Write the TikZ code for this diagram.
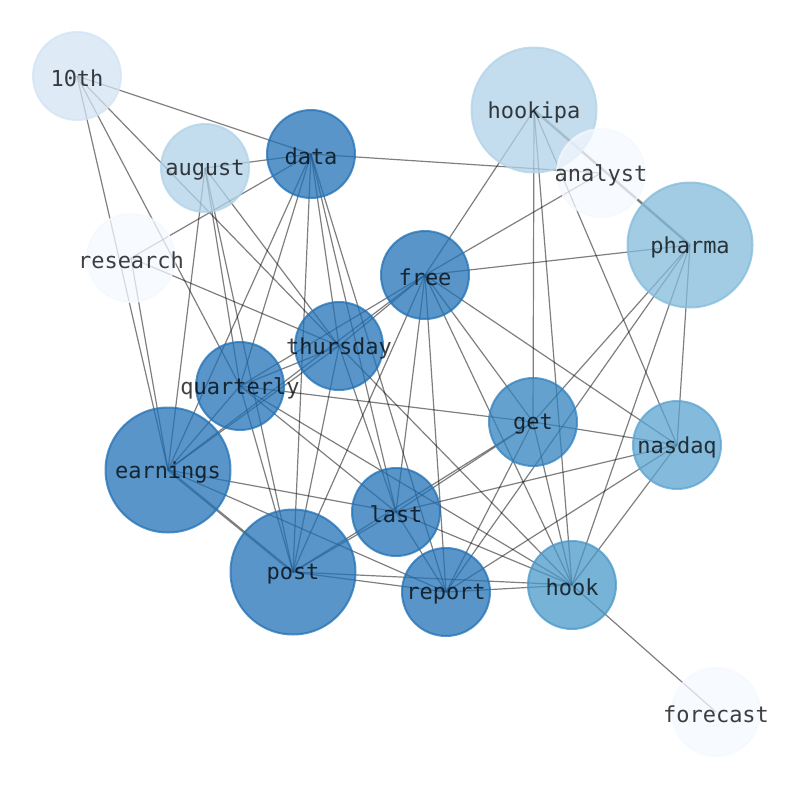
\documentclass[tikz,border=0pt]{standalone}
\usepackage{fontspec}
\setmonofont{DejaVu Sans Mono}
\pgfdeclarelayer{edgelayer}
\pgfsetlayers{edgelayer,main}
\definecolor{cdark}{HTML}{2171B5}
\definecolor{cget}{HTML}{3282BE}
\definecolor{chook}{HTML}{4A98C9}
\definecolor{cnasdaq}{HTML}{5BA3D0}
\definecolor{cpharma}{HTML}{82BBDB}
\definecolor{clight}{HTML}{B0D2E8}
\definecolor{cten}{HTML}{D3E3F3}
\definecolor{cwhite}{HTML}{F4F8FE}
\begin{document}
\begin{tikzpicture}[x=1pt,y=-1pt,
  nd/.style={circle, inner sep=0pt, line width=2pt, fill=#1, draw=#1,
    fill opacity=0.75, draw opacity=0.75},
  lbl/.style={inner sep=0pt, text=black, text opacity=0.75, yshift=-2pt,
    font=\fontsize{22}{24}\selectfont\ttfamily},
  sm/.style={minimum size=88pt},
  bg/.style={minimum size=125pt},
  ln/.style={draw=black, draw opacity=0.5, line width=1.2pt},
  wln/.style={draw=black, draw opacity=0.5, line width=2.4pt}]
\useasboundingbox (0,0) rectangle (794,790);
\node[nd=cten,sm,label={[lbl]center:10th}] (10th) at (77,76) {};
\node[nd=clight,sm,label={[lbl]center:august}] (august) at (205,168) {};
\node[nd=cdark,sm,label={[lbl]center:data}] (data) at (311,154) {};
\node[nd=clight,bg,label={[lbl]center:hookipa}] (hookipa) at (534,110) {};
\node[nd=cwhite,sm,label={[lbl]center:analyst}] (analyst) at (601,173) {};
\node[nd=cpharma,bg,label={[lbl]center:pharma}] (pharma) at (690,245) {};
\node[nd=cwhite,sm,label={[lbl]center:research}] (research) at (131,258) {};
\node[nd=cdark,sm,label={[lbl]center:free}] (free) at (425,275) {};
\node[nd=cdark,sm,label={[lbl]center:thursday}] (thursday) at (339,346) {};
\node[nd=cdark,sm,label={[lbl]center:quarterly}] (quarterly) at (240,386) {};
\node[nd=cget,sm,label={[lbl]center:get}] (get) at (533,422) {};
\node[nd=cnasdaq,sm,label={[lbl]center:nasdaq}] (nasdaq) at (677,445) {};
\node[nd=cdark,bg,label={[lbl]center:earnings}] (earnings) at (168,470) {};
\node[nd=cdark,sm,label={[lbl]center:last}] (last) at (396,512) {};
\node[nd=cdark,bg,label={[lbl]center:post}] (post) at (293,572) {};
\node[nd=cdark,sm,label={[lbl]center:report}] (report) at (446,592) {};
\node[nd=chook,sm,label={[lbl]center:hook}] (hook) at (572,585) {};
\node[nd=cwhite,sm,label={[lbl]center:forecast}] (forecast) at (716,712) {};
\begin{pgfonlayer}{edgelayer}
\foreach \a/\b in {10th/data, 10th/thursday, 10th/quarterly, 10th/earnings,
  research/earnings, research/data, research/thursday,
  august/data, august/earnings, august/quarterly, august/post, august/thursday,
  data/analyst, data/earnings, data/quarterly, data/post, data/thursday, data/last, data/report,
  hookipa/free, hookipa/get, hookipa/hook, hookipa/nasdaq,
  analyst/free,
  pharma/free, pharma/get, pharma/report, pharma/hook, pharma/nasdaq,
  free/nasdaq, free/post, free/last, free/report, free/get, free/hook, free/thursday, free/quarterly, free/earnings,
  earnings/thursday, earnings/quarterly, quarterly/thursday, quarterly/get,
  earnings/last, earnings/report,
  post/last, post/get, last/get, last/nasdaq, last/hook, last/report, last/thursday, last/quarterly,
  post/report, post/hook, post/quarterly, post/thursday,
  get/nasdaq, get/report, get/hook, nasdaq/report, nasdaq/hook, report/hook,
  hook/forecast, thursday/hook, quarterly/hook}
  \draw[ln] (\a.center) -- (\b.center);
\draw[wln] (earnings.center) -- (post.center);
\draw[wln] (hookipa.center) -- (pharma.center);
\end{pgfonlayer}
\end{tikzpicture}
\end{document}
